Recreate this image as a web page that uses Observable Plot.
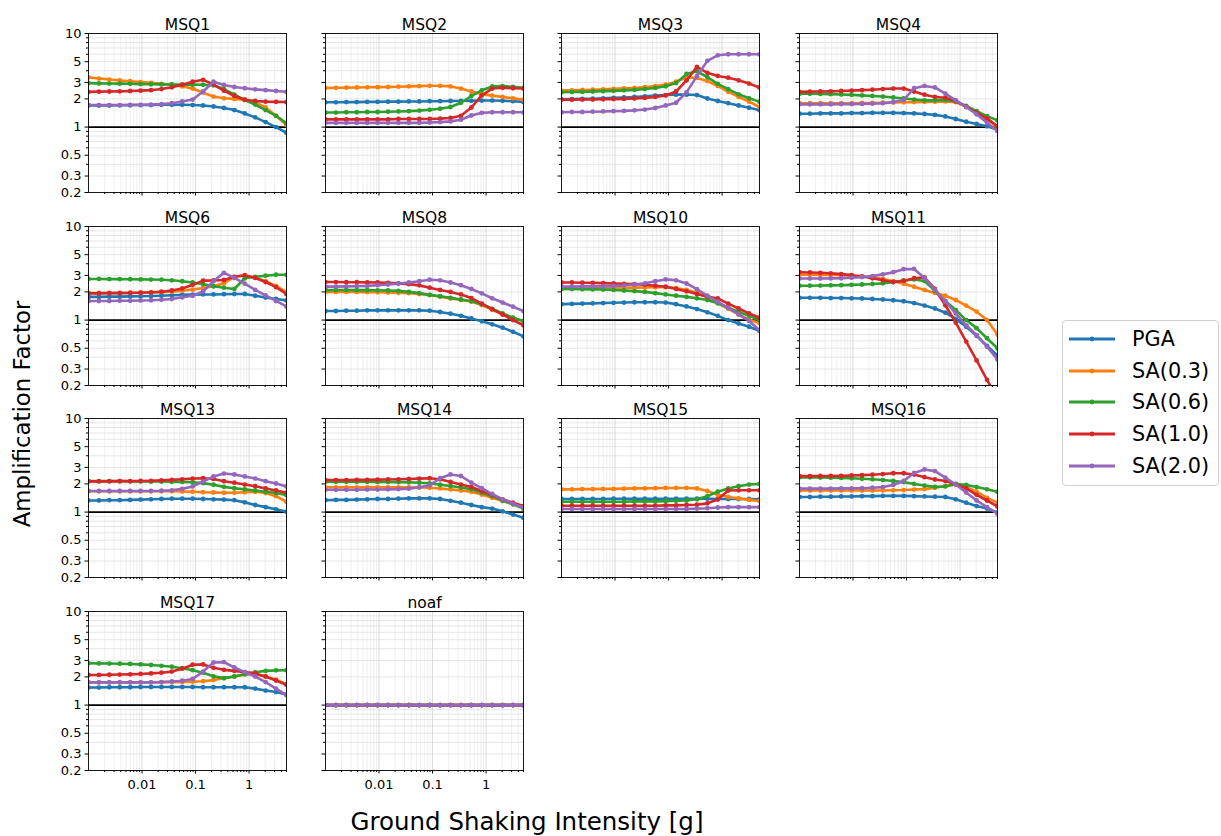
<!DOCTYPE html>
<html><head><meta charset="utf-8">
<script src="https://cdn.jsdelivr.net/npm/d3@7"></script>
<script src="https://cdn.jsdelivr.net/npm/@observablehq/plot@0.6"></script>
<style>
body{margin:0;background:#fff;font-family:"DejaVu Sans",sans-serif;}
#root{position:relative;width:1221px;height:836px;overflow:hidden;background:#fff;}
.panel{position:absolute;}
.lab{position:absolute;white-space:nowrap;color:#000;}
</style></head><body><div id="root"></div>
<script>
// x values (ground shaking intensity, g)
const gms = [0.001,0.0015654,0.0024505,0.003836,0.0060049,0.0094001,0.014715,0.023035,0.036058,0.056445,0.088359,0.13832,0.21652,0.33894,0.53058,0.83056,1.3002,2.0353,3.186,4.9875];
const seriesNames = ["PGA","SA(0.3)","SA(0.6)","SA(1.0)","SA(2.0)"];
const seriesColors = ["#1f77b4","#ff7f0e","#2ca02c","#d62728","#9467bd"];
const panelNames = ["MSQ1","MSQ2","MSQ3","MSQ4","MSQ6","MSQ8","MSQ10","MSQ11","MSQ13","MSQ14","MSQ15","MSQ16","MSQ17","noaf"];
const yTicks = [0.2,0.3,0.5,1,2,3,5,10];
const yMinorTicks = [0.4,0.6,0.7,0.8,0.9,4,6,7,8,9];
const yGridLines = [0.2,0.3,0.4,0.5,0.6,0.7,0.8,0.9,1,2,3,4,5,6,7,8,9,10];
const xTicks = [0.01,0.1,1];
const xMinorTicks = [0.002,0.003,0.004,0.005,0.006,0.007,0.008,0.009,0.02,0.03,0.04,0.05,0.06,0.07,0.08,0.09,0.2,0.3,0.4,0.5,0.6,0.7,0.8,0.9,2,3,4,5];

// Amplification factors per panel: rows = PGA, SA(0.3), SA(0.6), SA(1.0), SA(2.0)
const MSQ1 = [
 [1.70,1.70,1.70,1.71,1.71,1.72,1.72,1.73,1.73,1.73,1.72,1.70,1.66,1.60,1.52,1.40,1.27,1.13,1.00,0.87],
 [3.40,3.30,3.22,3.15,3.09,3.03,2.97,2.90,2.82,2.72,2.58,2.33,2.12,2.03,2.00,1.96,1.84,1.62,1.32,1.05],
 [2.95,2.93,2.92,2.91,2.90,2.88,2.87,2.86,2.85,2.84,2.84,2.83,2.80,2.55,2.22,1.95,1.74,1.52,1.32,1.10],
 [2.38,2.39,2.40,2.41,2.43,2.45,2.48,2.55,2.66,2.84,3.05,3.20,2.85,2.45,2.15,1.96,1.90,1.87,1.86,1.85],
 [1.72,1.72,1.72,1.72,1.73,1.73,1.74,1.76,1.80,1.88,1.97,2.40,3.05,2.82,2.68,2.60,2.53,2.48,2.43,2.38]];
const MSQ2 = [
 [1.84,1.84,1.85,1.85,1.86,1.86,1.87,1.87,1.88,1.88,1.89,1.89,1.90,1.90,1.91,1.92,1.92,1.91,1.89,1.86],
 [2.62,2.63,2.64,2.65,2.66,2.67,2.68,2.70,2.72,2.74,2.76,2.76,2.72,2.58,2.40,2.25,2.17,2.10,2.03,1.96],
 [1.43,1.43,1.44,1.44,1.45,1.45,1.46,1.47,1.48,1.50,1.53,1.57,1.64,1.82,2.15,2.47,2.72,2.74,2.69,2.62],
 [1.21,1.21,1.21,1.21,1.21,1.21,1.21,1.22,1.22,1.22,1.22,1.23,1.25,1.32,1.62,2.18,2.58,2.63,2.60,2.58],
 [1.11,1.11,1.11,1.11,1.11,1.11,1.11,1.11,1.11,1.11,1.12,1.13,1.15,1.20,1.33,1.42,1.44,1.44,1.44,1.44]];
const MSQ3 = [
 [1.98,1.99,2.00,2.01,2.03,2.05,2.07,2.10,2.13,2.17,2.20,2.22,2.22,2.20,2.02,1.90,1.80,1.70,1.61,1.52],
 [2.45,2.47,2.49,2.51,2.53,2.56,2.59,2.62,2.67,2.74,2.84,3.05,3.40,3.35,3.10,2.75,2.38,2.10,1.87,1.64],
 [2.36,2.37,2.38,2.40,2.42,2.44,2.47,2.50,2.55,2.62,2.73,2.95,3.70,3.95,3.42,2.90,2.54,2.24,2.03,1.87],
 [1.96,1.96,1.97,1.97,1.98,1.99,2.00,2.02,2.05,2.10,2.18,2.40,3.15,4.40,3.80,3.52,3.37,3.16,2.92,2.65],
 [1.44,1.45,1.45,1.46,1.47,1.48,1.49,1.51,1.54,1.60,1.70,1.82,2.35,3.50,5.10,5.85,6.00,6.00,6.00,6.00]];
const MSQ4 = [
 [1.39,1.39,1.40,1.40,1.40,1.41,1.41,1.42,1.42,1.42,1.41,1.40,1.38,1.35,1.30,1.22,1.14,1.08,1.02,0.94],
 [1.80,1.80,1.80,1.80,1.80,1.80,1.81,1.81,1.82,1.83,1.84,1.85,1.86,1.87,1.88,1.85,1.65,1.42,1.21,1.00],
 [2.27,2.27,2.26,2.25,2.23,2.21,2.18,2.15,2.12,2.07,2.02,1.97,1.93,1.93,1.95,1.88,1.68,1.48,1.31,1.18],
 [2.38,2.39,2.40,2.41,2.43,2.45,2.48,2.51,2.55,2.58,2.58,2.40,2.22,2.10,2.06,1.90,1.65,1.42,1.24,1.02],
 [1.75,1.75,1.75,1.75,1.76,1.76,1.77,1.78,1.80,1.85,1.95,2.60,2.75,2.65,2.28,1.93,1.64,1.37,1.11,0.91]];
const MSQ6 = [
 [1.77,1.77,1.78,1.78,1.79,1.80,1.81,1.82,1.84,1.86,1.87,1.88,1.88,1.89,1.90,1.90,1.82,1.74,1.68,1.62],
 [1.95,1.95,1.95,1.95,1.96,1.96,1.97,1.99,2.01,2.06,2.12,2.20,2.30,2.48,2.90,3.00,2.85,2.60,2.32,2.00],
 [2.75,2.75,2.74,2.74,2.73,2.72,2.71,2.70,2.66,2.60,2.52,2.42,2.30,2.22,2.15,2.80,2.90,2.98,3.05,3.05],
 [1.93,1.93,1.94,1.94,1.95,1.96,1.98,2.01,2.07,2.18,2.38,2.64,2.65,2.68,2.90,3.02,2.82,2.55,2.25,1.90],
 [1.60,1.60,1.60,1.61,1.61,1.62,1.63,1.65,1.68,1.75,1.82,2.02,2.60,3.20,2.82,2.45,2.10,1.84,1.60,1.40]];
const MSQ8 = [
 [1.25,1.25,1.26,1.26,1.27,1.27,1.27,1.27,1.27,1.27,1.26,1.22,1.17,1.11,1.04,0.97,0.90,0.83,0.75,0.67],
 [2.00,2.00,2.00,2.00,1.99,1.98,1.97,1.96,1.94,1.90,1.85,1.78,1.70,1.64,1.58,1.45,1.29,1.15,1.05,0.97],
 [2.10,2.10,2.10,2.09,2.09,2.08,2.07,2.05,2.00,1.94,1.86,1.80,1.73,1.66,1.59,1.48,1.32,1.18,1.06,0.98],
 [2.55,2.55,2.54,2.54,2.53,2.52,2.50,2.47,2.42,2.35,2.22,2.10,2.00,1.88,1.72,1.50,1.31,1.15,1.00,0.88],
 [2.28,2.28,2.29,2.30,2.32,2.36,2.40,2.45,2.52,2.60,2.70,2.66,2.52,2.36,2.15,1.93,1.71,1.54,1.39,1.25]];
const MSQ10 = [
 [1.48,1.49,1.50,1.51,1.52,1.53,1.54,1.55,1.55,1.55,1.54,1.48,1.40,1.31,1.21,1.11,1.00,0.92,0.85,0.77],
 [2.15,2.16,2.17,2.18,2.19,2.20,2.21,2.22,2.23,2.24,2.25,2.20,2.10,1.97,1.75,1.52,1.32,1.15,1.01,0.93],
 [2.15,2.15,2.14,2.13,2.12,2.10,2.07,2.04,2.00,1.94,1.88,1.82,1.77,1.71,1.64,1.51,1.36,1.23,1.11,1.00],
 [2.52,2.52,2.51,2.50,2.48,2.46,2.44,2.42,2.39,2.33,2.27,2.15,2.03,1.90,1.78,1.70,1.50,1.33,1.18,1.06],
 [2.28,2.28,2.29,2.29,2.30,2.32,2.35,2.40,2.47,2.60,2.72,2.66,2.46,2.14,1.82,1.57,1.35,1.15,0.98,0.78]];
const MSQ11 = [
 [1.73,1.73,1.73,1.72,1.72,1.71,1.70,1.68,1.66,1.63,1.59,1.52,1.43,1.33,1.20,1.03,0.85,0.68,0.53,0.42],
 [3.05,3.05,3.04,3.03,3.01,2.98,2.94,2.87,2.75,2.60,2.45,2.27,2.10,1.95,1.82,1.64,1.43,1.23,1.00,0.70],
 [2.33,2.33,2.34,2.35,2.36,2.38,2.40,2.43,2.47,2.55,2.65,2.72,2.62,2.05,1.60,1.28,1.00,0.82,0.64,0.50],
 [3.25,3.23,3.20,3.16,3.10,3.02,2.92,2.80,2.66,2.55,2.62,2.80,2.86,2.15,1.44,0.94,0.59,0.37,0.23,0.145],
 [2.78,2.78,2.78,2.79,2.80,2.83,2.88,2.95,3.08,3.25,3.50,3.52,2.82,2.10,1.58,1.18,0.88,0.69,0.52,0.38]];
const MSQ13 = [
 [1.33,1.33,1.34,1.34,1.35,1.36,1.37,1.38,1.39,1.39,1.39,1.38,1.37,1.36,1.34,1.27,1.19,1.13,1.07,1.01],
 [1.67,1.67,1.67,1.67,1.67,1.67,1.67,1.67,1.67,1.66,1.65,1.63,1.62,1.61,1.61,1.63,1.65,1.60,1.48,1.29],
 [2.14,2.14,2.14,2.14,2.13,2.13,2.12,2.12,2.11,2.10,2.08,2.04,1.96,1.86,1.80,1.75,1.70,1.65,1.60,1.52],
 [2.13,2.13,2.13,2.14,2.14,2.15,2.16,2.18,2.21,2.24,2.28,2.30,2.26,2.14,2.06,1.97,1.89,1.79,1.70,1.61],
 [1.68,1.68,1.68,1.68,1.68,1.68,1.68,1.69,1.71,1.77,1.88,2.12,2.40,2.58,2.52,2.40,2.28,2.14,2.02,1.88]];
const MSQ14 = [
 [1.34,1.35,1.35,1.36,1.37,1.38,1.38,1.39,1.40,1.40,1.40,1.38,1.32,1.26,1.19,1.13,1.09,1.02,0.94,0.87],
 [1.84,1.84,1.84,1.84,1.84,1.84,1.84,1.84,1.84,1.83,1.82,1.79,1.75,1.70,1.65,1.54,1.42,1.31,1.21,1.13],
 [2.11,2.11,2.11,2.11,2.11,2.10,2.10,2.09,2.08,2.06,2.03,1.96,1.90,1.83,1.75,1.62,1.48,1.33,1.21,1.09],
 [2.20,2.20,2.20,2.21,2.21,2.22,2.23,2.24,2.26,2.28,2.30,2.24,2.10,1.97,1.85,1.68,1.52,1.37,1.26,1.16],
 [1.73,1.73,1.73,1.73,1.74,1.74,1.75,1.76,1.78,1.84,1.93,2.30,2.52,2.43,2.06,1.80,1.56,1.37,1.23,1.12]];
const MSQ15 = [
 [1.38,1.38,1.38,1.38,1.38,1.39,1.39,1.39,1.39,1.39,1.39,1.39,1.39,1.39,1.39,1.38,1.38,1.38,1.38,1.37],
 [1.75,1.75,1.76,1.76,1.77,1.77,1.78,1.79,1.79,1.80,1.81,1.81,1.81,1.79,1.68,1.53,1.45,1.40,1.35,1.31],
 [1.29,1.29,1.29,1.29,1.29,1.29,1.29,1.30,1.30,1.30,1.31,1.32,1.33,1.37,1.48,1.65,1.79,1.89,1.97,2.00],
 [1.17,1.17,1.17,1.17,1.17,1.17,1.17,1.17,1.17,1.17,1.18,1.18,1.19,1.20,1.24,1.36,1.70,1.71,1.71,1.71],
 [1.08,1.08,1.08,1.08,1.08,1.08,1.08,1.08,1.08,1.08,1.08,1.08,1.08,1.09,1.10,1.12,1.13,1.13,1.13,1.13]];
const MSQ16 = [
 [1.45,1.45,1.46,1.46,1.47,1.47,1.48,1.48,1.49,1.49,1.49,1.48,1.47,1.46,1.45,1.37,1.26,1.16,1.09,0.99],
 [1.70,1.70,1.70,1.70,1.70,1.70,1.70,1.70,1.70,1.71,1.72,1.74,1.76,1.82,1.90,1.97,1.86,1.65,1.42,1.26],
 [2.35,2.35,2.34,2.33,2.32,2.30,2.27,2.24,2.20,2.15,2.09,2.00,1.92,1.86,1.88,2.00,1.95,1.85,1.75,1.65],
 [2.42,2.42,2.43,2.43,2.44,2.46,2.48,2.51,2.55,2.60,2.60,2.52,2.36,2.23,2.15,1.98,1.79,1.53,1.33,1.15],
 [1.78,1.78,1.78,1.78,1.79,1.79,1.80,1.82,1.85,1.95,2.15,2.62,2.85,2.74,2.33,1.97,1.62,1.33,1.13,0.96]];
const MSQ17 = [
 [1.54,1.54,1.55,1.55,1.55,1.56,1.56,1.56,1.56,1.56,1.56,1.55,1.55,1.55,1.55,1.55,1.50,1.43,1.38,1.30],
 [1.75,1.75,1.75,1.75,1.75,1.75,1.75,1.76,1.76,1.77,1.78,1.80,1.85,1.94,2.02,2.14,2.13,2.02,1.87,1.68],
 [2.80,2.79,2.78,2.77,2.75,2.72,2.68,2.63,2.57,2.48,2.36,2.22,2.03,1.94,2.02,2.13,2.24,2.32,2.35,2.36],
 [2.10,2.10,2.11,2.12,2.13,2.15,2.18,2.22,2.28,2.45,2.70,2.72,2.50,2.38,2.32,2.25,2.18,2.02,1.83,1.65],
 [1.75,1.75,1.75,1.75,1.75,1.75,1.75,1.76,1.79,1.82,1.90,2.28,2.85,2.88,2.52,2.25,2.02,1.76,1.50,1.28]];
const NOAF = [
 [1,1,1,1,1,1,1,1,1,1,1,1,1,1,1,1,1,1,1,1],
 [1,1,1,1,1,1,1,1,1,1,1,1,1,1,1,1,1,1,1,1],
 [1,1,1,1,1,1,1,1,1,1,1,1,1,1,1,1,1,1,1,1],
 [1,1,1,1,1,1,1,1,1,1,1,1,1,1,1,1,1,1,1,1],
 [1,1,1,1,1,1,1,1,1,1,1,1,1,1,1,1,1,1,1,1]];
const panelData = [MSQ1,MSQ2,MSQ3,MSQ4,MSQ6,MSQ8,MSQ10,MSQ11,MSQ13,MSQ14,MSQ15,MSQ16,MSQ17,NOAF];

const root = document.getElementById("root");
const colLeft = [87.5, 324.5, 561, 798.5];
const rowTop = [33, 225.5, 418, 610.5];
const FW = 198, FH = 159, ML = 60, MR = 12, MT = 36, MB = 36;
const none = () => "";

panelNames.forEach((name, p) => {
  const r = Math.floor(p / 4), c = p % 4;
  const vals = panelData[p];
  const rows = [];
  seriesNames.forEach((s, k) => vals[k].forEach((v, i) => rows.push({series: s, x: gms[i], y: v})));
  const showY = c === 0;
  const showX = r === 3;
  const marks = [
    Plot.gridX({ticks: xMinorTicks, stroke: "#ebebeb", strokeOpacity: 1, strokeWidth: 0.8}),
    Plot.gridY({ticks: yGridLines, stroke: "#e0e0e0", strokeOpacity: 1, strokeWidth: 0.8}),
    Plot.gridX({ticks: xTicks, stroke: "#d2d2d2", strokeOpacity: 1, strokeWidth: 0.8}),
    Plot.ruleY([1], {stroke: "#000", strokeWidth: 1.6})
  ];
  seriesNames.forEach((s, k) => {
    const sub = rows.filter(d => d.series === s);
    marks.push(Plot.line(sub, {x: "x", y: "y", stroke: seriesColors[k], strokeWidth: 2.6, clip: true}));
    marks.push(Plot.dot(sub, {x: "x", y: "y", fill: seriesColors[k], r: 2.4, clip: true}));
  });
  marks.push(
    Plot.frame({stroke: "#000", strokeWidth: 0.9}),
    Plot.axisY({ticks: yTicks, tickSize: 3.5, tickPadding: 3.5, tickFormat: showY ? (d => String(d)) : none, label: null}),
    Plot.axisY({ticks: yMinorTicks, tickSize: 2, tickFormat: none, label: null}),
    Plot.axisX({ticks: xTicks, tickSize: 3.5, tickPadding: 5.5, tickFormat: showX ? (d => String(d)) : none, label: null}),
    Plot.axisX({ticks: xMinorTicks, tickSize: 2, tickFormat: none, label: null}),
    Plot.text([name], {text: d => d, frameAnchor: "top", dy: -15, fontSize: 15.5, fill: "#000"})
  );
  const svg = Plot.plot({
    width: ML + FW + MR, height: MT + FH + MB,
    marginLeft: ML, marginRight: MR, marginTop: MT, marginBottom: MB,
    x: {type: "log", domain: [0.001, 5]},
    y: {type: "log", domain: [0.2, 10]},
    style: {fontFamily: "DejaVu Sans", fontSize: "13px", background: "transparent", overflow: "visible", color: "#000"},
    marks
  });
  svg.classList.add("panel");
  svg.style.left = (colLeft[c] - ML) + "px";
  svg.style.top = (rowTop[r] - MT) + "px";
  svg.style.maxWidth = "none";
  root.appendChild(svg);
});

// axis labels
const yl = document.createElement("div");
yl.className = "lab";
yl.textContent = "Amplification Factor";
yl.style.cssText += "left:22px;top:414px;font-size:22.8px;transform:translate(-50%,-50%) rotate(-90deg);";
root.appendChild(yl);
const xl = document.createElement("div");
xl.className = "lab";
xl.textContent = "Ground Shaking Intensity [g]";
xl.style.cssText += "left:527px;top:821px;font-size:24.5px;transform:translate(-50%,-50%);";
root.appendChild(xl);

// legend
const lg = document.createElement("div");
lg.style.cssText = "position:absolute;left:1062px;top:320px;width:157px;height:166px;border:1px solid #d0d0d0;border-radius:4px;background:#fff;box-sizing:border-box;";
const rowY = [18, 50, 81, 113, 145];
seriesNames.forEach((s, k) => {
  const row = document.createElement("div");
  row.style.cssText = `position:absolute;left:0;top:${rowY[k] - 15}px;height:30px;width:157px;`;
  row.innerHTML = `<svg width="60" height="30" style="position:absolute;left:0;top:0"><line x1="6" x2="52" y1="15" y2="15" stroke="${seriesColors[k]}" stroke-width="2.8"/><circle cx="29" cy="15" r="2.4" fill="${seriesColors[k]}"/></svg><span style="position:absolute;left:69px;top:15px;transform:translateY(-50%);font-size:20.8px;white-space:nowrap;color:#000">${s}</span>`;
  lg.appendChild(row);
});
root.appendChild(lg);
</script></body></html>
